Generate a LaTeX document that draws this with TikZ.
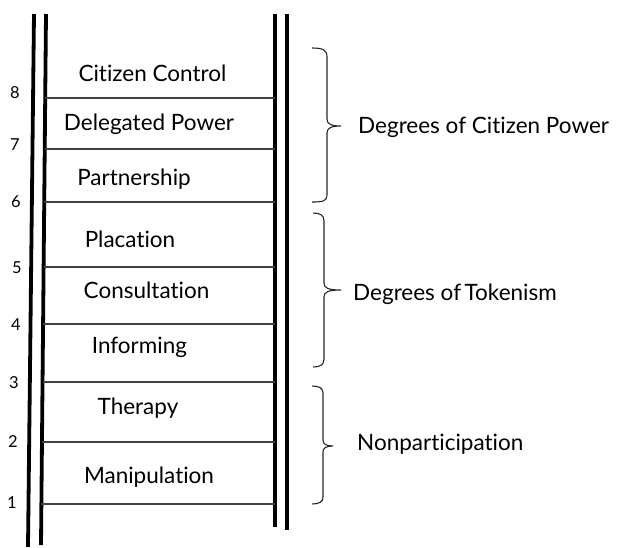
\documentclass[tikz,border=0pt]{standalone}
\usepackage{fontspec}
\setmainfont{Lato}[Ligatures={CommonOff,ContextualOff}]
\begin{document}
\begin{tikzpicture}[x=1pt,y=-1pt,
  rail/.style={line width=3.8pt,black},
  rung/.style={line width=1.6pt,black!75},
  brace/.style={line width=1.1pt,black!85},
  lbl/.style={anchor=base,inner sep=0pt,font=\fontsize{22.5}{26}\selectfont},
  num/.style={anchor=base,inner sep=0pt,font=\fontsize{16.5}{19}\selectfont},
  side/.style={anchor=base west,inner sep=0pt,font=\fontsize{22.5}{26}\selectfont}]
\useasboundingbox (0,0) rectangle (619,547);
% rails
\coordinate (lo1) at (34,14); \coordinate (lo2) at (28,547);
\coordinate (li1) at (46,14); \coordinate (li2) at (41,545);
\coordinate (ri1) at (275,14); \coordinate (ri2) at (275,527);
\coordinate (ro1) at (287,14); \coordinate (ro2) at (287,530);
\draw[rail] (lo1) -- (lo2);
\draw[rail] (li1) -- (li2);
\draw[rail] (ri1) -- (ri2);
\draw[rail] (ro1) -- (ro2);
% rungs
\foreach \y/\x in {98/45.2,149/44.7,202/44.2,267/43.6,324/43.1,382/42.5,442/42.0,504/41.4}
  \draw[rung] (\x,\y) -- (275,\y);
% numbers
\node[num] (n8) at (15,98) {8};
\node[num] (n7) at (15,150) {7};
\node[num] (n6) at (16,207) {6};
\node[num] (n5) at (17,273) {5};
\node[num] (n4) at (16,330) {4};
\node[num] (n3) at (14,388) {3};
\node[num] (n2) at (13,447) {2};
\node[num] (n1) at (12,508) {1};
% rung labels
\node[lbl] (cc) at (152.5,81) {Citizen Control};
\node[lbl] (dp) at (149,130) {Delegated Power};
\node[lbl] (pa) at (134,185) {Partnership};
\node[lbl] (pl) at (130,247) {Placation};
\node[lbl] (co) at (146.5,298) {Consultation};
\node[lbl] (in) at (139.5,353) {Informing};
\node[lbl] (th) at (138,414) {Therapy};
\node[lbl] (ma) at (149,483) {Manipulation};
% braces
\coordinate (b1) at (341,126);
\coordinate (b2) at (341,290);
\coordinate (b3) at (333,446);
\draw[brace] (312,48) .. controls (323,48) and (327,50) .. (327,57) -- (327,119)
  .. controls (327,124) and (331,126) .. (b1)
  .. controls (331,126) and (327,128) .. (327,133) -- (327,195)
  .. controls (327,201) and (323,202) .. (312,202);
\draw[brace] (313,213) .. controls (320,213) and (324,215) .. (324,221) -- (324,283)
  .. controls (324,288) and (328,290) .. (b2)
  .. controls (328,290) and (324,292) .. (324,297) -- (324,359)
  .. controls (324,365) and (320,367) .. (313,367);
\draw[brace] (312,386) .. controls (319,386) and (323,388) .. (323,393) -- (323,440)
  .. controls (323,444) and (326,446) .. (b3)
  .. controls (326,446) and (323,448) .. (323,452) -- (323,497)
  .. controls (323,502) and (319,504) .. (312,504);
% side labels
\node[side] (s1) at (358,133) {Degrees of Citizen Power};
\node[side] (s2) at (353,300) {Degrees of\kern-0.1em\ Tokenism};
\node[side] (s3) at (357,450) {Nonparticipation};
\end{tikzpicture}
\end{document}
